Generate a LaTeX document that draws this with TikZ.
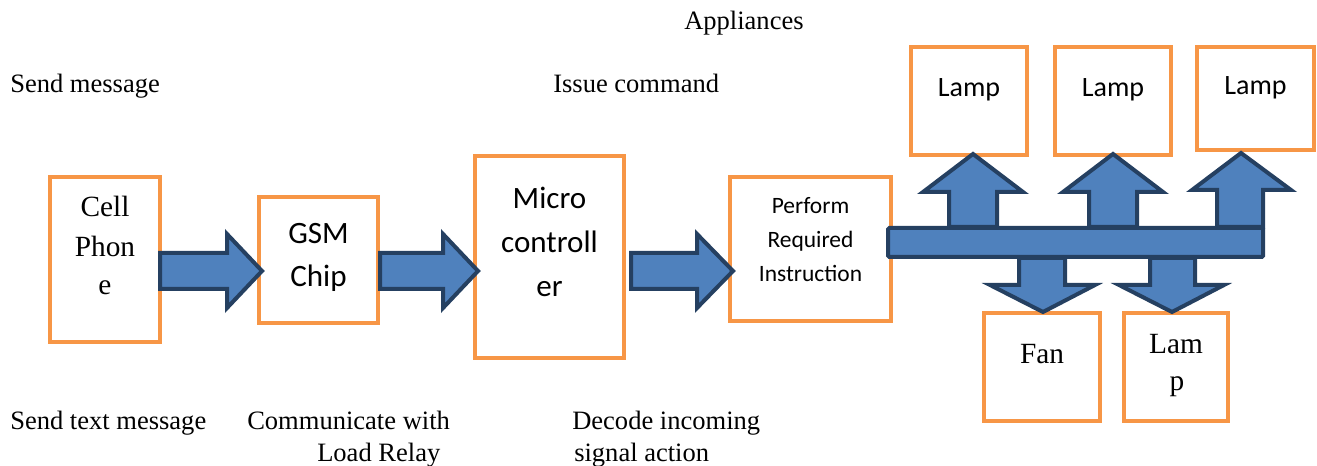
\documentclass[tikz,border=0pt]{standalone}
\usepackage{fontspec}
\setmainfont{Liberation Serif}
\newfontfamily\calibfont{Carlito}
\usetikzlibrary{fit}
\definecolor{boxorange}{HTML}{F79646}
\definecolor{arrowfill}{HTML}{4F81BD}
\definecolor{arrowline}{HTML}{254061}
\begin{document}
\begin{tikzpicture}[x=0.75pt,y=-0.75pt,
  blk/.style={draw=boxorange, line width=3pt, inner sep=0pt, outer sep=0pt},
  barrow/.style={fill=arrowfill, draw=arrowline, line width=3pt, line join=miter},
  outtxt/.style={inner sep=0pt, anchor=base west, font=\fontsize{19.9}{24}\selectfont},
  intxt/.style={inner sep=0pt, anchor=base, font=\fontsize{22}{26}\selectfont},
  caltxt/.style={inner sep=0pt, anchor=base, font=\calibfont\fontsize{23.3}{28}\selectfont},
  lamptxt/.style={inner sep=0pt, anchor=base, font=\calibfont\fontsize{21}{25}\selectfont},
  perftxt/.style={inner sep=0pt, anchor=base, font=\calibfont\fontsize{17.6}{21}\selectfont}]
\useasboundingbox (0,0) rectangle (1317,466);

% boxes
\node[blk, fit={(50,177) (160,342)}] (cell) {};
\node[blk, fit={(259,197) (378,323)}] (gsm) {};
\node[blk, fit={(475,156) (624,358)}] (micro) {};
\node[blk, fit={(730,177) (891,321)}] (perf) {};
\node[blk, fit={(911,47) (1027,155)}] (lampa) {};
\node[blk, fit={(1055,47) (1171,155)}] (lampb) {};
\node[blk, fit={(1197,47) (1314,150)}] (lampc) {};
\node[blk, fit={(984,313) (1100,421)}] (fan) {};
\node[blk, fit={(1124,313) (1228,421)}] (lampd) {};

% right block arrows
\draw[barrow] (160,253) -- (227,253) -- (227,234) -- (262,271) -- (227,308) -- (227,289) -- (160,289) -- cycle;
\draw[barrow] (380,253) -- (443,253) -- (443,234) -- (478,271) -- (443,308) -- (443,289) -- (380,289) -- cycle;
\draw[barrow] (631,253) -- (697,253) -- (697,234) -- (733,271) -- (697,308) -- (697,289) -- (631,289) -- cycle;

% up arrows
\draw[barrow] (949,227) -- (949,192) -- (923,192) -- (973,154) -- (1023,192) -- (997,192) -- (997,227) -- cycle;
\draw[barrow] (1089,227) -- (1089,192) -- (1063,192) -- (1113,154) -- (1163,192) -- (1137,192) -- (1137,227) -- cycle;
\draw[barrow] (1217,227) -- (1217,190) -- (1192,190) -- (1241,153) -- (1291,190) -- (1263,190) -- (1263,227) -- cycle;

% down arrows
\draw[barrow] (1019,258) -- (1019,285) -- (990,285) -- (1043,312) -- (1095,285) -- (1065,285) -- (1065,258) -- cycle;
\draw[barrow] (1150,258) -- (1150,285) -- (1119,285) -- (1172,312) -- (1224,285) -- (1195,285) -- (1195,258) -- cycle;

% bus bar
\draw[barrow, rounded corners=1pt] (888,228) rectangle (1263,257);

% texts in boxes
\node[intxt] (t1) at (105,217) {Cell};
\node[intxt] (t2) at (105,257) {Phon};
\node[intxt] (t3) at (105,295) {e};
\node[caltxt] (t4) at (318.5,244) {GSM};
\node[caltxt] (t5) at (318.5,287) {Chip};
\node[caltxt] (t6) at (549.5,209) {Micro};
\node[caltxt] (t7) at (549.5,253) {controll};
\node[caltxt] (t8) at (549.5,297) {er};
\node[perftxt] (t9) at (810.5,214) {Perform};
\node[perftxt] (t10) at (810.5,248) {Required};
\node[perftxt] (t11) at (810.5,282) {Instruction};
\node[lamptxt] (t12) at (969,97) {Lamp};
\node[lamptxt] (t13) at (1113,97) {Lamp};
\node[lamptxt] (t14) at (1255.5,95) {Lamp};
\node[intxt] (t15) at (1042,364) {Fan};
\node[intxt] (t16) at (1176,354) {Lam};
\node[intxt] (t17) at (1177,391) {p};

% outside texts
\node[outtxt] (o1) at (684,30) {Appliances};
\node[outtxt] (o2) at (10,93) {Send message};
\node[outtxt] (o3) at (553,93) {Issue command};
\node[outtxt] (o4) at (10,430) {Send text message};
\node[outtxt] (o5) at (247,430) {Communicate with};
\node[outtxt] (o6) at (317,461) {Load Relay};
\node[outtxt] (o7) at (572,430) {Decode incoming};
\node[outtxt] (o8) at (574,461) {signal action};
\end{tikzpicture}
\end{document}
